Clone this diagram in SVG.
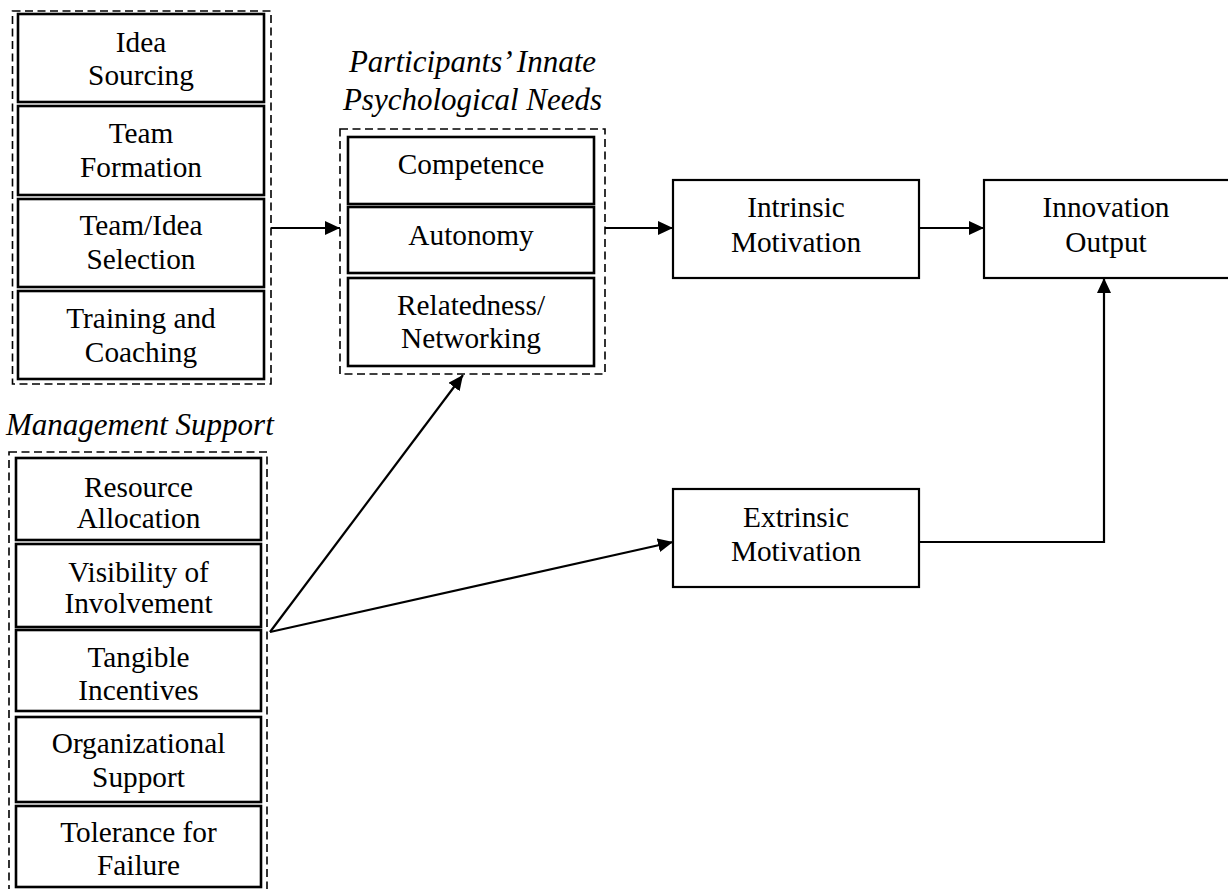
<svg xmlns="http://www.w3.org/2000/svg" width="1228" height="889" viewBox="0 0 1228 889">
<style>
  .bg{fill:#fff}
  .box{fill:#fff;stroke:#000;stroke-width:2.2}
  .inner{fill:#fff;stroke:#000;stroke-width:2.6}
  .dash{fill:none;stroke:#000;stroke-width:1.6;stroke-dasharray:8 4.5}
  .t{font-family:"Liberation Serif","Times New Roman",serif;font-size:29.3px;fill:#000;text-anchor:middle}
  .h{font-family:"Liberation Serif","Times New Roman",serif;font-size:31px;font-style:italic;fill:#000}
  .c{fill:none;stroke:#000;stroke-width:2.2}
</style>
<defs>
  <marker id="ah" markerUnits="userSpaceOnUse" markerWidth="16" markerHeight="14" refX="15" refY="7" orient="auto">
    <path d="M0,0 L15,7 L0,14 z" fill="#000"/>
  </marker>
</defs>
<rect class="bg" x="0" y="0" width="1228" height="889"/>

<g id="group-top">
  <rect class="dash" x="12.5" y="11" width="258.5" height="373"/>
  <g id="idea-sourcing">
    <rect class="inner" x="18" y="14" width="246" height="88"/>
    <text class="t" x="141" y="52">Idea</text>
    <text class="t" x="141" y="85">Sourcing</text>
  </g>
  <g id="team-formation">
    <rect class="inner" x="18" y="106" width="246" height="89"/>
    <text class="t" x="141" y="143">Team</text>
    <text class="t" x="141" y="177">Formation</text>
  </g>
  <g id="team-idea-selection">
    <rect class="inner" x="18" y="199" width="246" height="88"/>
    <text class="t" x="141" y="235">Team/Idea</text>
    <text class="t" x="141" y="269">Selection</text>
  </g>
  <g id="training-coaching">
    <rect class="inner" x="18" y="291" width="246" height="88"/>
    <text class="t" x="141" y="328">Training and</text>
    <text class="t" x="141" y="362">Coaching</text>
  </g>
</g>

<g id="group-needs">
  <text class="h" x="472.5" y="72" text-anchor="middle">Participants’ Innate</text>
  <text class="h" x="472.5" y="110" text-anchor="middle">Psychological Needs</text>
  <rect class="dash" x="340" y="129" width="265" height="245"/>
  <g id="competence">
    <rect class="inner" x="348" y="137" width="246" height="67"/>
    <text class="t" x="471" y="174">Competence</text>
  </g>
  <g id="autonomy">
    <rect class="inner" x="348" y="207" width="246" height="66"/>
    <text class="t" x="471" y="245">Autonomy</text>
  </g>
  <g id="relatedness">
    <rect class="inner" x="348" y="278" width="246" height="88"/>
    <text class="t" x="471" y="315">Relatedness/</text>
    <text class="t" x="471" y="348">Networking</text>
  </g>
</g>

<g id="group-management">
  <text class="h" x="6" y="435">Management Support</text>
  <rect class="dash" x="9" y="452" width="258" height="450"/>
  <g id="resource-allocation">
    <rect class="inner" x="16" y="458" width="245" height="82"/>
    <text class="t" x="138.5" y="497">Resource</text>
    <text class="t" x="138.5" y="528">Allocation</text>
  </g>
  <g id="visibility">
    <rect class="inner" x="16" y="544" width="245" height="83"/>
    <text class="t" x="138.5" y="582">Visibility of</text>
    <text class="t" x="138.5" y="613">Involvement</text>
  </g>
  <g id="tangible-incentives">
    <rect class="inner" x="16" y="630" width="245" height="81"/>
    <text class="t" x="138.5" y="667">Tangible</text>
    <text class="t" x="138.5" y="700">Incentives</text>
  </g>
  <g id="organizational-support">
    <rect class="inner" x="16" y="717" width="245" height="85"/>
    <text class="t" x="138.5" y="753">Organizational</text>
    <text class="t" x="138.5" y="787">Support</text>
  </g>
  <g id="tolerance-failure">
    <rect class="inner" x="16" y="806" width="245" height="81"/>
    <text class="t" x="138.5" y="842">Tolerance for</text>
    <text class="t" x="138.5" y="875">Failure</text>
  </g>
</g>

<g id="intrinsic">
  <rect class="box" x="673" y="180" width="246" height="98"/>
  <text class="t" x="796" y="217">Intrinsic</text>
  <text class="t" x="796" y="252">Motivation</text>
</g>
<g id="innovation-output">
  <rect class="box" x="984" y="180" width="260" height="98"/>
  <text class="t" x="1106" y="217">Innovation</text>
  <text class="t" x="1106" y="252">Output</text>
</g>
<g id="extrinsic">
  <rect class="box" x="673" y="489" width="246" height="98"/>
  <text class="t" x="796" y="527">Extrinsic</text>
  <text class="t" x="796" y="561">Motivation</text>
</g>

<g id="connectors">
  <line class="c" x1="271" y1="228" x2="340" y2="228" marker-end="url(#ah)"/>
  <line class="c" x1="605" y1="228" x2="673" y2="228" marker-end="url(#ah)"/>
  <line class="c" x1="919" y1="228" x2="984" y2="228" marker-end="url(#ah)"/>
  <line class="c" x1="270" y1="632" x2="463" y2="375" marker-end="url(#ah)"/>
  <line class="c" x1="270" y1="632" x2="673" y2="542" marker-end="url(#ah)"/>
  <polyline class="c" points="919,542 1104,542 1104,278" marker-end="url(#ah)"/>
</g>
</svg>
